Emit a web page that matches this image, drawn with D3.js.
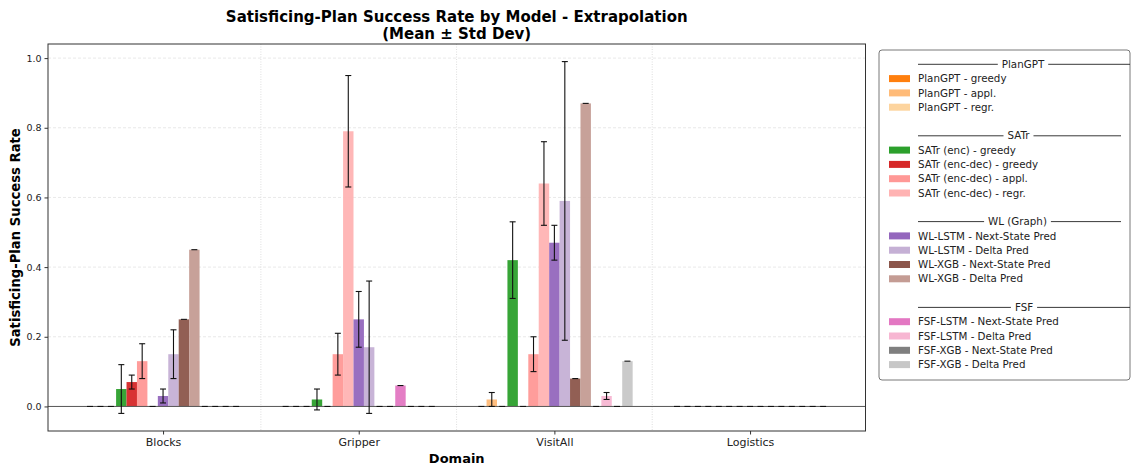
<!DOCTYPE html>
<html><head><meta charset="utf-8">
<script src="https://cdn.jsdelivr.net/npm/d3@7/dist/d3.min.js"></script>
<style>body{margin:0;background:#fff}svg{display:block;font-family:"DejaVu Sans",sans-serif}</style>
</head><body><svg id="c" width="1133" height="468"></svg>
<script>
const domains = ["Blocks", "Gripper", "VisitAll", "Logistics"];
const seriesNames = [
  "PlanGPT - greedy", "PlanGPT - appl.", "PlanGPT - regr.",
  "SATr (enc) - greedy", "SATr (enc-dec) - greedy", "SATr (enc-dec) - appl.", "SATr (enc-dec) - regr.",
  "WL-LSTM - Next-State Pred", "WL-LSTM - Delta Pred", "WL-XGB - Next-State Pred", "WL-XGB - Delta Pred",
  "FSF-LSTM - Next-State Pred", "FSF-LSTM - Delta Pred", "FSF-XGB - Next-State Pred", "FSF-XGB - Delta Pred"
];
const seriesColors = [
  "#ff7f0e", "#ffbb78", "#fdd49e",
  "#2ca02c", "#d62728", "#ff9896", "#ffb3b3",
  "#9467bd", "#c5b0d5", "#8c564b", "#c49c94",
  "#e377c2", "#f7b6d2", "#7f7f7f", "#c7c7c7"
];
const legendGroups = ["PlanGPT", "SATr", "WL (Graph)", "FSF"];
const groupSizes = [3, 4, 4, 4];

const meanBlocks    = [0, 0, 0, 0.05, 0.07, 0.13, 0, 0.03, 0.15, 0.25, 0.45, 0, 0, 0, 0];
const stdBlocks     = [0, 0, 0, 0.07, 0.02, 0.05, 0, 0.02, 0.07, 0, 0, 0, 0, 0, 0];
const meanGripper   = [0, 0, 0, 0.02, 0, 0.15, 0.79, 0.25, 0.17, 0, 0, 0.06, 0, 0, 0];
const stdGripper    = [0, 0, 0, 0.03, 0, 0.06, 0.16, 0.08, 0.19, 0, 0, 0, 0, 0, 0];
const meanVisitAll  = [0, 0.02, 0, 0.42, 0, 0.15, 0.64, 0.47, 0.59, 0.08, 0.87, 0, 0.03, 0, 0.13];
const stdVisitAll   = [0, 0.02, 0, 0.11, 0, 0.05, 0.12, 0.05, 0.40, 0, 0, 0, 0.01, 0, 0];
const meanLogistics = [0, 0, 0, 0, 0, 0, 0, 0, 0, 0, 0, 0, 0, 0, 0];
const stdLogistics  = [0, 0, 0, 0, 0, 0, 0, 0, 0, 0, 0, 0, 0, 0, 0];
const yTicks = [0.0, 0.2, 0.4, 0.6, 0.8, 1.0];

const means = [meanBlocks, meanGripper, meanVisitAll, meanLogistics];
const stds = [stdBlocks, stdGripper, stdVisitAll, stdLogistics];

const svg = d3.select("#c");
const L = 48, R = 865.5, T = 44, B = 431;
const x = d3.scaleLinear().domain([-0.588, 3.59]).range([L, R]);
const y = d3.scaleLinear().domain([-0.0705, 1.0405]).range([B, T]);
const nS = seriesNames.length;
const bw = 0.8 / nS;
const off = i => (i - (nS - 1) / 2) * bw;

// grid
svg.append("g").selectAll("line").data(yTicks.filter(t => t > 0)).join("line")
  .attr("x1", L).attr("x2", R).attr("y1", d => y(d)).attr("y2", d => y(d))
  .attr("stroke", "#e3e3e3").attr("stroke-width", 0.8).attr("stroke-dasharray", "3,2");
svg.append("g").selectAll("line").data([0.5, 1.5, 2.5]).join("line")
  .attr("x1", d => x(d)).attr("x2", d => x(d)).attr("y1", T).attr("y2", B)
  .attr("stroke", "#d6d6d6").attr("stroke-width", 0.8).attr("stroke-dasharray", "1,1.5");

// bars
const data = [];
domains.forEach((dm, di) => seriesNames.forEach((s, si) => data.push({di, si, m: means[di][si], s: stds[di][si]})));
svg.append("g").selectAll("rect").data(data.filter(d => d.m > 0)).join("rect")
  .attr("x", d => x(d.di + off(d.si) - bw / 2))
  .attr("width", d => x(bw) - x(0))
  .attr("y", d => y(d.m))
  .attr("height", d => y(0) - y(d.m))
  .attr("fill", d => seriesColors[d.si]).attr("opacity", 0.95);

// zero line
svg.append("line").attr("x1", L).attr("x2", R).attr("y1", y(0)).attr("y2", y(0))
  .attr("stroke", "#555").attr("stroke-width", 1);

// error bars
const cap = 3;
const eg = svg.append("g").attr("stroke", "#111").attr("stroke-width", 1.1);
data.forEach(d => {
  const cx = x(d.di + off(d.si));
  const lo = y(d.m - d.s), hi = y(d.m + d.s);
  if (d.s > 0) eg.append("line").attr("x1", cx).attr("x2", cx).attr("y1", lo).attr("y2", hi);
  eg.append("line").attr("x1", cx - cap).attr("x2", cx + cap).attr("y1", hi).attr("y2", hi);
  if (d.s > 0) eg.append("line").attr("x1", cx - cap).attr("x2", cx + cap).attr("y1", lo).attr("y2", lo);
});

// axes
const ya = svg.append("g").attr("transform", `translate(${L},0)`)
  .call(d3.axisLeft(y).tickValues(yTicks).tickFormat(d3.format(".1f")).tickSize(3.5).tickPadding(3));
ya.select(".domain").remove();
ya.selectAll("text").attr("font-size", 9.5).attr("fill", "#222").attr("font-family", "DejaVu Sans");
ya.selectAll("line").attr("stroke", "#333");
const xa = svg.append("g").attr("transform", `translate(0,${B})`)
  .call(d3.axisBottom(x).tickValues([0, 1, 2, 3]).tickFormat(i => domains[i]).tickSize(3.5).tickPadding(4));
xa.select(".domain").remove();
xa.selectAll("text").attr("font-size", 11).attr("fill", "#222").attr("font-family", "DejaVu Sans");
xa.selectAll("line").attr("stroke", "#333");

svg.append("rect").attr("x", L).attr("y", T).attr("width", R - L).attr("height", B - T)
  .attr("fill", "none").attr("stroke", "#333").attr("stroke-width", 1);

// titles
svg.append("text").attr("x", (L + R) / 2).attr("y", 22).attr("text-anchor", "middle")
  .attr("font-weight", "bold").attr("font-size", 15).text("Satisficing-Plan Success Rate by Model - Extrapolation");
svg.append("text").attr("x", (L + R) / 2).attr("y", 39).attr("text-anchor", "middle")
  .attr("font-weight", "bold").attr("font-size", 15).text("(Mean ± Std Dev)");
svg.append("text").attr("x", (L + R) / 2).attr("y", 463).attr("text-anchor", "middle")
  .attr("font-weight", "bold").attr("font-size", 13).text("Domain");
svg.append("text").attr("transform", `translate(20,${(T + B) / 2}) rotate(-90)`).attr("text-anchor", "middle")
  .attr("font-weight", "bold").attr("font-size", 13.2).text("Satisficing-Plan Success Rate");

// legend
const lg = svg.append("g");
lg.append("rect").attr("x", 879).attr("y", 50).attr("width", 251).attr("height", 330).attr("rx", 3)
  .attr("fill", "#fff").attr("stroke", "#555").attr("stroke-width", 0.8);
const headerCenters = [1023, 1018.5, 1017.5, 1024];
const headerRightEnds = [1130, 1121, 1121, 1130];
const rowH = 14.3, row0 = 64.3;
let row = 0, si = 0;
legendGroups.forEach((g, gi) => {
  const yy = row0 + row * rowH;
  const t = lg.append("text").attr("x", headerCenters[gi]).attr("y", yy).attr("dy", "0.35em")
    .attr("text-anchor", "middle").attr("font-size", 10.3).attr("fill", "#222").text(g);
  const tw = t.node().getComputedTextLength();
  lg.append("line").attr("x1", 918).attr("x2", headerCenters[gi] - tw / 2 - 4).attr("y1", yy).attr("y2", yy)
    .attr("stroke", "#222").attr("stroke-width", 0.9);
  lg.append("line").attr("x1", headerCenters[gi] + tw / 2 + 4).attr("x2", headerRightEnds[gi]).attr("y1", yy).attr("y2", yy)
    .attr("stroke", "#222").attr("stroke-width", 0.9);
  row++;
  for (let k = 0; k < groupSizes[gi]; k++, si++, row++) {
    const ry = row0 + row * rowH;
    lg.append("rect").attr("x", 889).attr("y", ry - 3.5).attr("width", 21).attr("height", 7).attr("fill", seriesColors[si]);
    lg.append("text").attr("x", 918).attr("y", ry).attr("dy", "0.35em").attr("font-size", 10.3).attr("fill", "#222").text(seriesNames[si]);
  }
  row++;
});
</script></body></html>
